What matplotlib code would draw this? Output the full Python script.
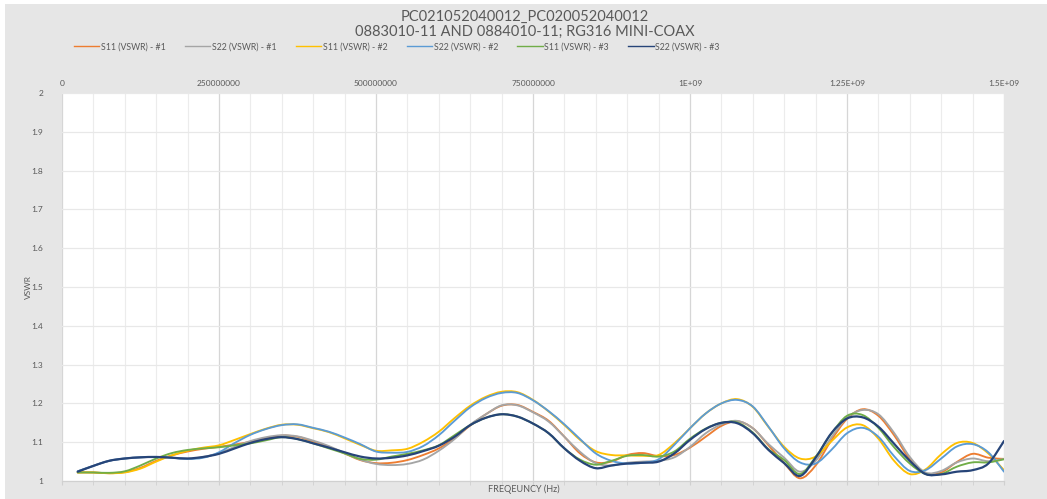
import matplotlib
matplotlib.use("Agg")
import matplotlib.pyplot as plt
from matplotlib.lines import Line2D
from matplotlib.patches import PathPatch, Rectangle
from matplotlib.path import Path
from matplotlib.ticker import MultipleLocator

plt.rcParams["font.family"] = ["Lato", "DejaVu Sans"]

TITLE_1 = "PC021052040012_PC020052040012"
TITLE_2 = "0883010-11 AND 0884010-11; RG316 MINI-COAX"

FREQ_MHZ = [25, 50, 75, 100, 125, 150, 175, 200, 225, 250,
            275, 300, 325, 350, 375, 400, 425, 450, 475, 500,
            525, 550, 575, 600, 625, 650, 675, 700, 725, 750,
            775, 800, 825, 850, 875, 900, 925, 950, 975, 1000,
            1025, 1050, 1075, 1100, 1125, 1150, 1175, 1200, 1225, 1250,
            1275, 1300, 1325, 1350, 1375, 1400, 1425, 1450, 1475, 1500]

S11_1 = [1.022, 1.022, 1.020, 1.023, 1.034, 1.052, 1.066, 1.076, 1.083, 1.088,
         1.094, 1.101, 1.109, 1.117, 1.114, 1.102, 1.088, 1.071, 1.054, 1.046,
         1.047, 1.054, 1.067, 1.084, 1.110, 1.143, 1.172, 1.194, 1.196, 1.178,
         1.155, 1.114, 1.071, 1.048, 1.050, 1.067, 1.072, 1.064, 1.067, 1.086,
         1.114, 1.142, 1.154, 1.136, 1.092, 1.046, 1.007, 1.040, 1.105, 1.160,
         1.185, 1.168, 1.118, 1.056, 1.019, 1.022, 1.049, 1.070, 1.060, 1.057]

S22_1 = [1.025, 1.039, 1.052, 1.058, 1.061, 1.062, 1.060, 1.057, 1.062, 1.072,
         1.088, 1.103, 1.113, 1.118, 1.115, 1.104, 1.090, 1.072, 1.055, 1.044,
         1.041, 1.044, 1.055, 1.078, 1.108, 1.145, 1.172, 1.195, 1.195, 1.177,
         1.153, 1.114, 1.075, 1.046, 1.040, 1.047, 1.050, 1.052, 1.061, 1.088,
         1.123, 1.146, 1.155, 1.136, 1.095, 1.060, 1.024, 1.052, 1.112, 1.163,
         1.183, 1.172, 1.124, 1.062, 1.022, 1.026, 1.048, 1.058, 1.051, 1.057]

S11_2 = [1.022, 1.022, 1.020, 1.022, 1.032, 1.050, 1.066, 1.078, 1.086, 1.092,
         1.106, 1.121, 1.135, 1.145, 1.145, 1.136, 1.126, 1.110, 1.093, 1.078,
         1.079, 1.083, 1.101, 1.127, 1.162, 1.194, 1.217, 1.230, 1.229, 1.209,
         1.179, 1.144, 1.106, 1.077, 1.067, 1.066, 1.065, 1.067, 1.097, 1.136,
         1.174, 1.200, 1.211, 1.191, 1.139, 1.088, 1.058, 1.063, 1.102, 1.138,
         1.144, 1.109, 1.052, 1.018, 1.030, 1.069, 1.098, 1.098, 1.071, 1.028]

S22_2 = [1.025, 1.039, 1.052, 1.058, 1.061, 1.062, 1.060, 1.057, 1.060, 1.074,
         1.098, 1.119, 1.134, 1.144, 1.146, 1.137, 1.127, 1.112, 1.095, 1.076,
         1.073, 1.075, 1.090, 1.118, 1.155, 1.190, 1.214, 1.227, 1.227, 1.208,
         1.180, 1.146, 1.108, 1.071, 1.052, 1.045, 1.047, 1.056, 1.093, 1.136,
         1.174, 1.200, 1.209, 1.192, 1.140, 1.084, 1.048, 1.045, 1.080, 1.123,
         1.137, 1.114, 1.064, 1.026, 1.028, 1.058, 1.089, 1.095, 1.074, 1.024]

S11_3 = [1.022, 1.022, 1.021, 1.025, 1.040, 1.058, 1.072, 1.080, 1.084, 1.087,
         1.092, 1.097, 1.105, 1.113, 1.108, 1.097, 1.084, 1.071, 1.057, 1.055,
         1.063, 1.070, 1.079, 1.092, 1.118, 1.144, 1.163, 1.172, 1.166, 1.148,
         1.123, 1.084, 1.055, 1.042, 1.052, 1.065, 1.067, 1.063, 1.076, 1.109,
         1.135, 1.150, 1.151, 1.125, 1.082, 1.054, 1.018, 1.062, 1.122, 1.168,
         1.170, 1.137, 1.087, 1.045, 1.018, 1.018, 1.037, 1.048, 1.048, 1.056]

S22_3 = [1.024, 1.039, 1.052, 1.058, 1.061, 1.062, 1.060, 1.058, 1.062, 1.070,
         1.084, 1.098, 1.108, 1.113, 1.108, 1.097, 1.086, 1.074, 1.063, 1.058,
         1.060, 1.066, 1.077, 1.091, 1.114, 1.144, 1.163, 1.172, 1.166, 1.148,
         1.123, 1.084, 1.052, 1.033, 1.040, 1.045, 1.047, 1.050, 1.071, 1.106,
         1.134, 1.150, 1.149, 1.123, 1.080, 1.046, 1.013, 1.060, 1.123, 1.161,
         1.164, 1.140, 1.096, 1.052, 1.018, 1.017, 1.024, 1.028, 1.045, 1.103]

SERIES_LABELS = ["S11 (VSWR) - #1", "S22 (VSWR) - #1", "S11 (VSWR) - #2",
                 "S22 (VSWR) - #2", "S11 (VSWR) - #3", "S22 (VSWR) - #3"]
SERIES_COLORS = ["#ED7D31", "#A5A5A5", "#FFC000", "#5B9BD5", "#70AD47", "#264478"]

X_TICKS = [0, 250e6, 500e6, 750e6, 1000e6, 1250e6, 1500e6]
X_TICK_LABELS = ["0", "250000000", "500000000", "750000000", "1E+09", "1.25E+09", "1.5E+09"]
Y_TICKS = [1, 1.1, 1.2, 1.3, 1.4, 1.5, 1.6, 1.7, 1.8, 1.9, 2]
Y_TICK_LABELS = ["1", "1.1", "1.2", "1.3", "1.4", "1.5", "1.6", "1.7", "1.8", "1.9", "2"]

TEXT_COLOR = "#595959"
BG_COLOR = "#e6e6e6"


def smooth_path(xs, ys):
    # Excel-like smoothed line: cubic Bezier segments through each data point
    pts = list(zip(xs, ys))
    n = len(pts)
    verts = [pts[0]]
    codes = [Path.MOVETO]
    for i in range(n - 1):
        p0 = pts[i - 1] if i > 0 else pts[i]
        p1 = pts[i]
        p2 = pts[i + 1]
        p3 = pts[i + 2] if i + 2 < n else pts[i + 1]
        c1 = (p1[0] + (p2[0] - p0[0]) / 6, p1[1] + (p2[1] - p0[1]) / 6)
        c2 = (p2[0] - (p3[0] - p1[0]) / 6, p2[1] - (p3[1] - p1[1]) / 6)
        verts += [c1, c2, p2]
        codes += [Path.CURVE4] * 3
    return Path(verts, codes)


fig = plt.figure(figsize=(10.47, 4.99), dpi=100, facecolor=BG_COLOR)
# thin white margin at the top and left, as in the exported chart
fig.patches.append(Rectangle((0, 0), 5 / 1047, 1, transform=fig.transFigure,
                             facecolor="white", edgecolor="none"))
fig.patches.append(Rectangle((0, 1 - 4 / 499), 1, 4 / 499, transform=fig.transFigure,
                             facecolor="white", edgecolor="none"))

ax = fig.add_axes([62 / 1047, 18 / 499, 942 / 1047, 388 / 499])
ax.set_facecolor("white")

freq_hz = [f * 1e6 for f in FREQ_MHZ]
series = [S11_1, S22_1, S11_2, S22_2, S11_3, S22_3]
handles = []
for i, (vals, label, color) in enumerate(zip(series, SERIES_LABELS, SERIES_COLORS)):
    lw = 1.6 if i == 5 else 1.35
    ax.add_patch(PathPatch(smooth_path(freq_hz, vals), facecolor="none", edgecolor=color,
                           lw=lw, capstyle="round", joinstyle="round", zorder=3 + i))
    handles.append(Line2D([], [], color=color, lw=1.0, label=label))

ax.set_xlim(0, 1.5e9)
ax.set_ylim(1, 2)

ax.set_xticks(X_TICKS)
ax.set_xticklabels(X_TICK_LABELS)
ax.xaxis.set_minor_locator(MultipleLocator(50e6))
ax.set_yticks(Y_TICKS)
ax.set_yticklabels(Y_TICK_LABELS)

ax.tick_params(axis="x", which="both", bottom=True, top=False, labelbottom=False, labeltop=True,
               direction="out", length=3, color="#d0d0d0", labelsize=6, labelcolor=TEXT_COLOR, pad=1.5)
ax.tick_params(axis="y", which="both", left=False, right=False, labelsize=6,
               labelcolor=TEXT_COLOR, pad=10)

ax.grid(axis="x", which="major", color="#d6d6d6", lw=0.9, zorder=1)
ax.grid(axis="x", which="minor", color="#ececec", lw=0.8, zorder=1)
ax.grid(axis="y", which="major", color="#e8e8e8", lw=0.9, zorder=1)
ax.set_axisbelow(True)

for side in ["top", "left", "right"]:
    ax.spines[side].set_visible(False)
ax.spines["bottom"].set_color("#d0d0d0")
ax.spines["bottom"].set_linewidth(0.9)

ax.set_ylabel("VSWR", fontsize=6, color=TEXT_COLOR, va="center")
ax.yaxis.set_label_coords(-34 / 942, 0.5)
ax.set_xlabel("FREQEUNCY (Hz)", fontsize=6.5, color=TEXT_COLOR, va="center")
ax.xaxis.set_label_coords(0.49, -8 / 388)

fig.text(525 / 1047, 1 - 17 / 499, TITLE_1, ha="center", va="center", fontsize=10.5, color=TEXT_COLOR)
fig.text(525 / 1047, 1 - 32 / 499, TITLE_2, ha="center", va="center", fontsize=10.5, color=TEXT_COLOR)

fig.legend(handles=handles, loc="center left", bbox_to_anchor=(70 / 1047, 1 - 47 / 499),
           ncol=6, frameon=False, fontsize=6.3, handlelength=2.9, handletextpad=0.2,
           columnspacing=2.2, labelcolor=TEXT_COLOR, borderaxespad=0)

fig.savefig("out.png", dpi=100, facecolor=fig.get_facecolor())
